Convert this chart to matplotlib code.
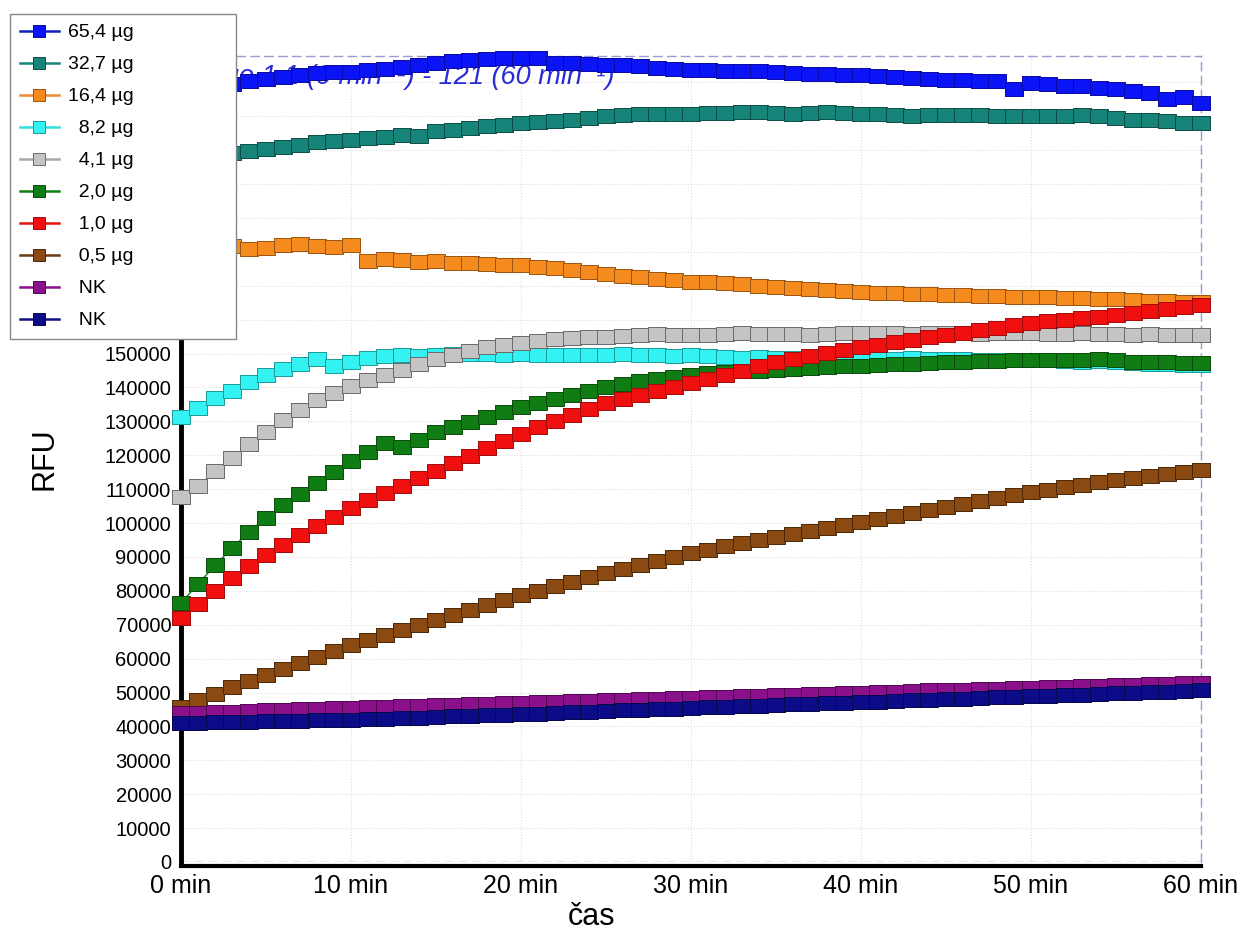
import numpy as np
import matplotlib
matplotlib.use("Agg")
from matplotlib import pyplot as plt
from matplotlib.lines import Line2D
from matplotlib.path import Path
from matplotlib.ticker import MultipleLocator, FuncFormatter

plt.rcParams['font.family'] = ['Liberation Sans', 'DejaVu Sans']

# time in minutes, RFU values (in thousands)
minutes = np.arange(0, 61)

rfu_65_4 = [227.7, 228.2, 228.8, 229.6, 230.3, 231.0, 231.6, 232.2, 232.7, 233.0,
            233.2, 233.6, 234.0, 234.5, 235.0, 235.6, 236.2, 236.7, 237.0, 237.1,
            237.2, 237.3, 235.8, 235.6, 235.4, 235.2, 235.0, 234.8, 234.3, 234.0,
            233.8, 233.6, 233.5, 233.4, 233.5, 233.2, 232.8, 232.6, 232.4, 232.3,
            232.2, 231.8, 231.5, 231.3, 231.0, 230.8, 230.6, 230.5, 230.3, 228.0,
            229.8, 229.4, 229.0, 228.8, 228.5, 228.2, 227.5, 226.8, 225.0, 225.7,
            224.0]
rfu_32_7 = [207.0, 207.8, 208.5, 209.2, 209.8, 210.4, 211.0, 211.6, 212.3, 212.8,
            213.1, 213.6, 214.0, 214.4, 214.2, 215.8, 216.1, 216.5, 217.0, 217.5,
            218.0, 218.4, 218.6, 218.8, 219.5, 220.0, 220.4, 220.8, 220.8, 220.7,
            220.8, 220.9, 221.0, 221.3, 221.2, 221.0, 220.8, 220.9, 221.2, 221.0,
            220.8, 220.6, 220.5, 220.2, 220.4, 220.5, 220.3, 220.5, 220.2, 220.0,
            220.0, 220.2, 220.0, 220.3, 220.0, 219.5, 219.0, 218.8, 218.5, 218.0,
            218.0]
rfu_16_4 = [181.5, 182.2, 181.3, 181.8, 181.0, 181.2, 182.0, 182.3, 181.8, 181.4,
            182.0, 177.3, 178.0, 177.6, 177.0, 177.4, 176.8, 176.8, 176.4, 176.2,
            176.0, 175.6, 175.2, 174.6, 174.0, 173.5, 173.0, 172.6, 172.0, 171.6,
            171.2, 171.0, 170.8, 170.4, 170.0, 169.6, 169.4, 169.0, 168.8, 168.4,
            168.2, 168.0, 167.9, 167.7, 167.6, 167.4, 167.2, 167.0, 167.0, 166.8,
            166.7, 166.6, 166.4, 166.3, 166.1, 166.0, 165.8, 165.6, 165.5, 165.3,
            165.2]
rfu_8_2 = [131.3, 134.0, 136.8, 139.0, 141.5, 143.6, 145.4, 147.0, 148.4, 146.4,
           147.5, 148.6, 149.2, 149.5, 149.4, 149.6, 149.8, 150.0, 149.8, 149.7,
           149.8, 149.6, 149.5, 149.7, 149.6, 149.6, 149.8, 149.5, 149.6, 149.3,
           149.5, 149.3, 149.0, 148.8, 148.9, 148.8, 148.7, 148.8, 148.6, 148.5,
           148.6, 148.5, 148.4, 148.6, 148.5, 148.4, 148.3, 148.2, 148.0, 148.2,
           148.1, 148.0, 147.8, 147.6, 147.7, 147.4, 147.3, 147.0, 146.8, 146.7,
           146.6]
rfu_4_1 = [107.7, 111.0, 115.3, 119.3, 123.3, 127.0, 130.5, 133.5, 136.2, 138.5,
           140.3, 142.2, 143.8, 145.3, 146.8, 148.5, 149.6, 150.8, 151.8, 152.5,
           153.2, 153.6, 154.2, 154.6, 155.0, 155.0, 155.3, 155.4, 155.8, 155.5,
           155.5, 155.6, 155.8, 156.0, 155.8, 155.9, 155.7, 155.6, 155.8, 156.0,
           156.0, 156.1, 156.0, 155.9, 156.0, 156.2, 156.0, 155.9, 156.0, 156.1,
           156.0, 155.8, 155.9, 156.0, 155.8, 155.7, 155.6, 155.7, 155.6, 155.5,
           155.5]
rfu_2_0 = [76.4, 82.0, 87.5, 92.6, 97.4, 101.6, 105.3, 108.7, 111.8, 115.0,
           118.2, 121.0, 123.6, 122.4, 124.6, 126.8, 128.4, 129.9, 131.4, 132.8,
           134.2, 135.5, 136.6, 137.8, 139.0, 140.2, 141.0, 141.8, 142.5, 143.2,
           143.8, 144.2, 144.5, 144.8, 145.0, 145.2, 145.5, 145.8, 146.0, 146.2,
           146.4, 146.6, 146.8, 147.0, 147.2, 147.4, 147.6, 147.7, 147.8, 148.0,
           148.1, 148.2, 148.0, 148.2, 148.3, 148.0, 147.6, 147.5, 147.4, 147.3,
           147.2]
rfu_1_0 = [72.0, 76.0, 80.0, 83.8, 87.3, 90.6, 93.6, 96.4, 99.2, 101.8,
           104.4, 106.7, 108.9, 111.0, 113.2, 115.4, 117.6, 119.8, 122.0, 124.2,
           126.4, 128.2, 130.0, 131.8, 133.6, 135.4, 136.6, 137.8, 139.0, 140.1,
           141.3, 142.6, 143.8, 145.0, 146.3, 147.5, 148.4, 149.3, 150.2, 151.0,
           151.9, 152.6, 153.3, 154.0, 154.8, 155.5, 156.2, 156.9, 157.6, 158.3,
           159.0, 159.5, 160.0, 160.4, 160.9, 161.4, 162.0, 162.5, 163.1, 163.7,
           164.3]
rfu_0_5 = [45.7, 47.7, 49.6, 51.5, 53.4, 55.2, 57.0, 58.8, 60.6, 62.3,
           64.0, 65.5, 67.0, 68.5, 70.0, 71.4, 72.9, 74.4, 75.9, 77.4,
           78.8, 80.1, 81.4, 82.7, 84.0, 85.3, 86.5, 87.7, 88.9, 90.1,
           91.2, 92.1, 93.1, 94.0, 95.0, 95.9, 96.8, 97.7, 98.6, 99.4,
           100.3, 101.2, 102.1, 102.9, 103.8, 104.7, 105.6, 106.5, 107.4, 108.2,
           109.1, 109.8, 110.5, 111.3, 112.0, 112.7, 113.3, 113.9, 114.4, 115.0,
           115.6]
rfu_nk_1 = [44.0, 44.1, 44.3, 44.4, 44.6, 44.7, 44.9, 45.0, 45.1, 45.3,
            45.4, 45.6, 45.7, 45.9, 46.0, 46.2, 46.3, 46.5, 46.6, 46.8,
            46.9, 47.1, 47.2, 47.4, 47.5, 47.7, 47.8, 48.0, 48.2, 48.3,
            48.5, 48.6, 48.8, 48.9, 49.1, 49.2, 49.4, 49.5, 49.7, 49.8,
            50.0, 50.1, 50.3, 50.4, 50.6, 50.7, 50.8, 51.0, 51.1, 51.3,
            51.4, 51.6, 51.7, 51.8, 52.0, 52.1, 52.3, 52.4, 52.5, 52.7,
            52.8]
rfu_nk_2 = [41.0, 41.1, 41.2, 41.3, 41.4, 41.5, 41.6, 41.7, 41.8, 41.8,
            41.9, 42.1, 42.3, 42.4, 42.6, 42.8, 43.0, 43.1, 43.3, 43.5,
            43.7, 43.8, 44.0, 44.2, 44.4, 44.5, 44.7, 44.9, 45.1, 45.2,
            45.4, 45.6, 45.8, 45.9, 46.1, 46.3, 46.5, 46.6, 46.8, 47.0,
            47.2, 47.3, 47.5, 47.7, 47.9, 48.0, 48.2, 48.4, 48.6, 48.7,
            48.9, 49.1, 49.3, 49.4, 49.6, 49.8, 50.0, 50.1, 50.3, 50.5,
            50.7]

labels = ['65,4 µg', '32,7 µg', '16,4 µg', '  8,2 µg', '  4,1 µg',
          '  2,0 µg', '  1,0 µg', '  0,5 µg', '  NK', '  NK']
series = [rfu_65_4, rfu_32_7, rfu_16_4, rfu_8_2, rfu_4_1,
          rfu_2_0, rfu_1_0, rfu_0_5, rfu_nk_1, rfu_nk_2]
face_colors = ['#0a14f5', '#17847a', '#f58a1e', '#35f2f2', '#c4c4c4',
               '#107d14', '#f01010', '#8a4a12', '#8a108c', '#0c0c88']
edge_colors = ['#0a0aa0', '#0c4d46', '#9a5410', '#1a9a9a', '#6a6a6a',
               '#0a4a0a', '#a00a0a', '#4a2806', '#4e0650', '#06064a']
line_colors = ['#1020c0', '#17847a', '#e88a30', '#30e0e0', '#a8a8a8',
               '#107d14', '#e01010', '#6a3a10', '#8a108c', '#101080']

# wide flat box so neighbouring points merge into a stepped band
box = Path([(-1, -0.8), (1, -0.8), (1, 0.8), (-1, 0.8), (-1, -0.8)],
           [Path.MOVETO, Path.LINETO, Path.LINETO, Path.LINETO, Path.CLOSEPOLY])

fig = plt.figure(figsize=(12.42, 9.33), dpi=100)
ax = fig.add_axes([0.1457, 0.0761, 0.8213, 0.8639])

for vals, fc, ec, lc in zip(series, face_colors, edge_colors, line_colors):
    ax.plot(minutes, np.array(vals) * 1000, color=lc, lw=1,
            marker=box, ms=12.6, mfc=fc, mec=ec, mew=0.7, clip_on=False, zorder=3)

ax.text(25.5, 231500, 'Range 1.1 (0 min⁻¹) - 121 (60 min⁻¹)', ha='right', va='center',
        color='#2a2ad8', style='italic', fontsize=19.5, zorder=1)

ax.set_xlim(0, 60)
ax.set_ylim(0, 237800)
ax.xaxis.set_major_locator(MultipleLocator(10))
ax.yaxis.set_major_locator(MultipleLocator(10000))
ax.xaxis.set_major_formatter(FuncFormatter(lambda v, p: '%d min' % v))
# labels above 150000 sit under the legend box, so they are left blank
ax.yaxis.set_major_formatter(FuncFormatter(lambda v, p: '%d' % v if v <= 150000 else ''))
ax.tick_params(length=0)
ax.tick_params(axis='x', labelsize=18, pad=6)
ax.tick_params(axis='y', labelsize=14.5, pad=7)
ax.grid(True, color='#dedede', lw=0.8, linestyle=':')
ax.set_axisbelow(True)

ax.spines['left'].set_linewidth(3.5)
ax.spines['bottom'].set_linewidth(3)
ax.spines['bottom'].set_position(('outward', 3))
for side in ['top', 'right']:
    ax.spines[side].set_color('#9a9ad6')
    ax.spines[side].set_linestyle((0, (6, 4)))
    ax.spines[side].set_linewidth(1)
ax.axhline(0, color='#9a9a9a', lw=1, linestyle=(0, (6, 4)), zorder=2)

ax.set_ylabel('RFU', fontsize=22)
ax.yaxis.set_label_coords(-0.119, 0.5)
ax.set_xlabel('čas', fontsize=22)
ax.xaxis.set_label_coords(0.402, -0.05)

handles = [Line2D([0], [0], color=lc, lw=1.8, marker='s', ms=8, mfc=fc, mec=ec, mew=0.7)
           for fc, ec, lc in zip(face_colors, edge_colors, line_colors)]
fig.legend(handles, labels, loc='upper left', bbox_to_anchor=(0.008, 0.64, 0.182, 0.345),
           mode='expand', fontsize=14, frameon=True, fancybox=False, framealpha=1,
           edgecolor='#888888', handlelength=2.0, handletextpad=0.5, labelspacing=0.74,
           borderpad=0.5, borderaxespad=0)

fig.savefig('out.png', dpi=100)
